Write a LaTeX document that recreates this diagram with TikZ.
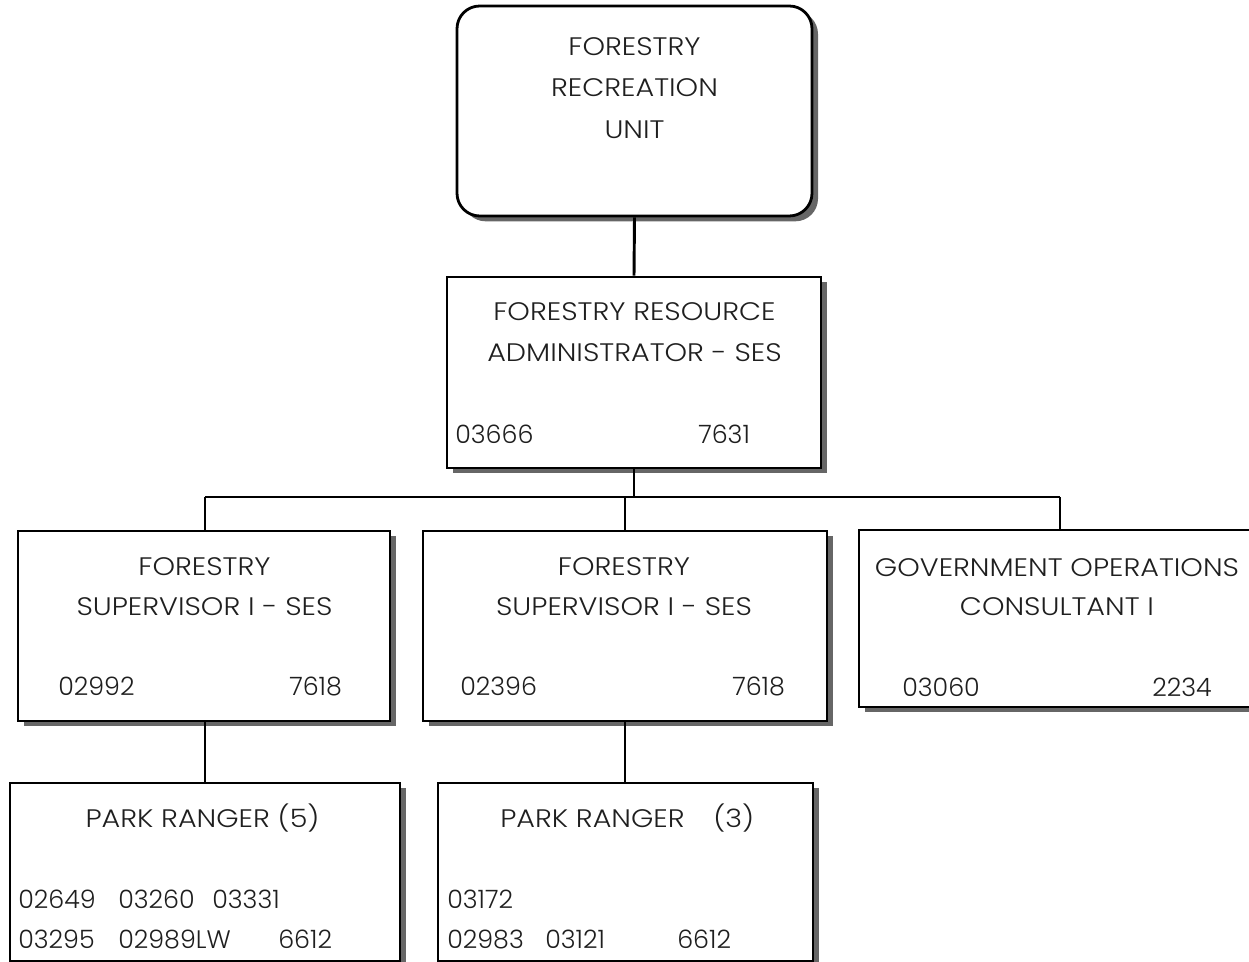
\documentclass[tikz,border=0pt]{standalone}
\usepackage{fontspec}
\setmainfont{Poppins}[UprightFont={* Light}, FakeStretch=1.13]
\newfontfamily\codefont{Poppins}[UprightFont={* Light}, FakeStretch=1.0]
\usetikzlibrary{shadows,fit}
\definecolor{shadowgray}{gray}{0.4}
\definecolor{inkgray}{gray}{0.12}
\begin{document}
\begin{tikzpicture}[x=0.75pt,y=-0.75pt,
  unitbox/.style={draw=black, line width=2.1pt, fill=white, inner sep=0pt,
    drop shadow={shadow xshift=4.5pt, shadow yshift=-4pt, fill=shadowgray, opacity=1}},
  roundbox/.style={unitbox, rounded corners=17pt},
  lbl/.style={font=\fontsize{19}{23}\selectfont, text=inkgray, inner sep=0pt, anchor=base},
  lblwest/.style={lbl, anchor=base west},
  num/.style={lbl, font=\fontsize{19}{23}\selectfont\codefont, anchor=base west},
  link/.style={draw=black, line width=2.2pt}
]
\useasboundingbox (0,0) rectangle (1249,962);

% boxes
\node[roundbox, fit={(457,6) (812,216)}] (unit) {};
\node[unitbox, fit={(447,277) (821,468)}] (admin) {};
\node[unitbox, fit={(18,531) (390,721)}] (supA) {};
\node[unitbox, fit={(423,531) (827,721)}] (supB) {};
\node[unitbox, fit={(859,530) (1262,707)}] (cons) {};
\node[unitbox, fit={(10,783) (400,961)}] (rangA) {};
\node[unitbox, fit={(438,783) (813,961)}] (rangB) {};

% connectors
\coordinate (busL) at (205,497);
\coordinate (busM) at (625,497);
\coordinate (busR) at (1060,497);
\draw[link] (unit.south) -- (admin.north);
\draw[link] (admin.south) -- (admin.south |- busM);
\draw[link] (busL) -- (busR);
\draw[link] (busL) -- (busL |- supA.north);
\draw[link] (busM) -- (busM |- supB.north);
\draw[link] (busR) -- (busR |- cons.north);
\draw[link] (busL |- supA.south) -- (busL |- rangA.north);
\draw[link] (busM |- supB.south) -- (busM |- rangB.north);

% texts of the unit box
\node[lbl] (unitL1) at (634.5,56) {FORESTRY};
\node[lbl] (unitL2) at (634.5,97) {RECREATION};
\node[lbl] (unitL3) at (634.5,139) {UNIT};

% administrator
\node[lbl] (admL1) at (634.5,321) {FORESTRY RESOURCE};
\node[lbl] (admL2) at (634.5,362) {ADMINISTRATOR - SES};
\node[num] (admN1) at (455,443) {03666};
\node[num] (admN2) at (698,443) {7631};

% supervisors
\node[lbl] (supAL1) at (204.5,575) {FORESTRY};
\node[lbl] (supAL2) at (204.5,615) {SUPERVISOR I - SES};
\node[num] (supAN1) at (58,695) {02992};
\node[num] (supAN2) at (289,695) {7618};

\node[lbl] (supBL1) at (624,575) {FORESTRY};
\node[lbl] (supBL2) at (624,615) {SUPERVISOR I - SES};
\node[num] (supBN1) at (460,695) {02396};
\node[num] (supBN2) at (732,695) {7618};

% consultant
\node[lbl] (consL1) at (1057,576) {GOVERNMENT OPERATIONS};
\node[lbl] (consL2) at (1057,615) {CONSULTANT I};
\node[num] (consN1) at (902,696) {03060};
\node[num] (consN2) at (1152,696) {2234};

% park rangers
\node[lbl] (rangAL1) at (202.5,827) {PARK RANGER (5)};
\node[num] (rangAN1) at (18,908) {02649};
\node[num] (rangAN2) at (118,908) {03260};
\node[num] (rangAN3) at (212,908) {03331};
\node[num] (rangAN4) at (18,948) {03295};
\node[num] (rangAN5) at (118,948) {02989LW};
\node[num] (rangAN6) at (278,948) {6612};

\node[lblwest] (rangBL1) at (500,827) {PARK RANGER};
\node[lblwest] (rangBL2) at (713,827) {(3)};
\node[num] (rangBN1) at (447,908) {03172};
\node[num] (rangBN2) at (447,948) {02983};
\node[num] (rangBN3) at (545,948) {03121};
\node[num] (rangBN4) at (677,948) {6612};
\end{tikzpicture}
\end{document}
